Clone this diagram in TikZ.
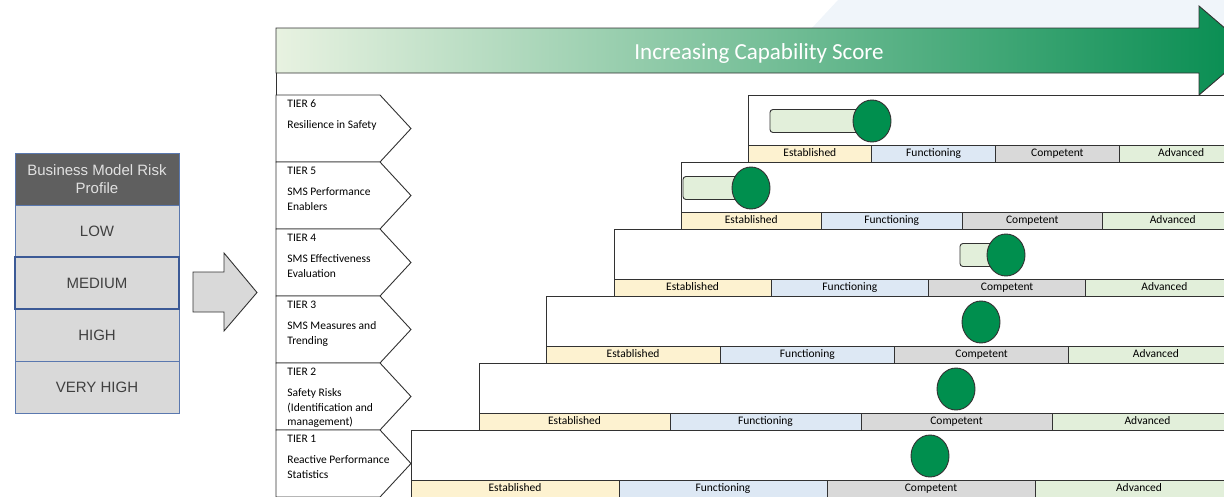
\documentclass[tikz,border=0pt]{standalone}
\usepackage{fontspec}
\setmainfont{Carlito}
\newfontfamily\helv{Liberation Sans}
\usetikzlibrary{shapes.geometric, positioning}
\definecolor{FrameGray}{RGB}{50, 50, 50}
\definecolor{RiskBlue}{RGB}{90, 120, 175}
\definecolor{RiskBlueDark}{RGB}{60, 90, 150}
\definecolor{RiskHead}{RGB}{95, 95, 95}
\definecolor{RiskHeadText}{RGB}{225, 225, 225}
\definecolor{RiskFill}{RGB}{217, 217, 217}
\definecolor{RiskText}{RGB}{64, 64, 64}
\definecolor{EstFill}{RGB}{253, 242, 208}
\definecolor{FunFill}{RGB}{221, 232, 244}
\definecolor{ComFill}{RGB}{217, 217, 217}
\definecolor{AdvFill}{RGB}{226, 239, 218}
\definecolor{ScoreGreen}{RGB}{0, 143, 78}
\definecolor{BandLight}{RGB}{232, 242, 225}
\definecolor{BandMid}{RGB}{165, 212, 180}
\definecolor{BandDark}{RGB}{5, 140, 80}
\definecolor{SlideTint}{RGB}{240, 245, 250}

\begin{document}
\begin{tikzpicture}[
        x=1pt, y=-1pt, line width=0.9pt,
        riskrow/.style={draw=RiskBlue, fill=RiskFill, text=RiskText, minimum width=164pt, minimum height=52pt, inner sep=0pt, outer sep=0pt, align=center, font=\helv\fontsize{15}{18}\selectfont},
        cell/.style={draw=FrameGray, anchor=west, minimum height=17pt, text height=8pt, text depth=2.5pt, inner sep=0pt, outer sep=0pt, font=\fontsize{11.5}{13}\selectfont},
        tiertext/.style={inner sep=0pt, align=left, font=\fontsize{11.5}{14.2}\selectfont},
        bar/.style={draw=FrameGray, fill=AdvFill, rounded corners=3pt},
        dot/.style={ellipse, draw=FrameGray, fill=ScoreGreen, minimum width=38pt, minimum height=42pt, inner sep=0pt}
    ]
        \useasboundingbox (0,0) rectangle (1224,496);
        \clip (0,0) rectangle (1224,496);
        \fill[SlideTint] (838,0) -- (1224,0) -- (1224,28) -- (812,28) -- cycle;

        % capability arrow across the top
        \draw[FrameGray, left color=BandLight, middle color=BandMid, right color=BandDark]
            (276,28) -- (1199,28) -- (1199,6) -- (1251,50.5) -- (1199,95) -- (1199,73) -- (276,73) -- cycle;
        \node[text=white, font=\fontsize{23}{26}\selectfont] (score) at (759,53) {Increasing Capability Score};
        \draw[FrameGray] (276,73) -- (276,496);

        % tier chevrons
        \foreach \tier/\desc in {6/{Resilience in Safety}, 5/{SMS Performance\\Enablers}, 4/{SMS Effectiveness\\Evaluation}, 3/{SMS Measures and\\Trending}, 2/{Safety Risks\\(Identification and\\management)}, 1/{Reactive Performance\\Statistics}} {
            \pgfmathsetmacro{\ytop}{95+(6-\tier)*67}
            \draw[FrameGray, fill=white] (276,\ytop) -- (380,\ytop) -- (411,\ytop+33.5) -- (380,\ytop+67) -- (276,\ytop+67) -- cycle;
            \node[tiertext, anchor=west] (tier\tier) at (287,\ytop+9) {TIER \tier};
            \node[tiertext, anchor=north west] (desc\tier) at (287,\ytop+25.5) {\desc};
        }

        % capability boxes with their rating bands
        \foreach \tier/\xl in {6/748, 5/681, 4/614, 3/546, 2/479, 1/411} {
            \pgfmathsetmacro{\ytop}{95+(6-\tier)*67}
            \pgfmathsetmacro{\w}{(1243-\xl)/4}
            \draw[FrameGray, fill=white] (\xl,\ytop) rectangle (1243,\ytop+67);
            \foreach \lbl/\col [count=\k from 0] in {Established/EstFill, Functioning/FunFill, Competent/ComFill, Advanced/AdvFill}
                \node[cell, fill=\col, minimum width=\w] (c\tier-\k) at (\xl+\k*\w,\ytop+58.5) {\lbl};
        }

        % current scores
        \draw[bar] (770,109.5) rectangle (872,132.5);
        \node[dot] (dot6) at (872,121) {};
        \draw[bar] (683,176.5) rectangle (751,199.5);
        \node[dot] (dot5) at (751,188) {};
        \draw[bar] (960,243.5) rectangle (1006,266.5);
        \node[dot] (dot4) at (1006,255) {};
        \node[dot] (dot3) at (981,322) {};
        \node[dot] (dot2) at (956,389) {};
        \node[dot] (dot1) at (930,456) {};

        % risk profile table
        \node[riskrow, fill=RiskHead, text=RiskHeadText] (risk) at (97,179) {Business Model Risk\\Profile};
        \node[riskrow, below=0pt of risk] (low) {LOW};
        \node[riskrow, below=0pt of low] (medium) {MEDIUM};
        \node[riskrow, below=0pt of medium] (high) {HIGH};
        \node[riskrow, below=0pt of high] (veryhigh) {VERY HIGH};
        \draw[RiskBlueDark, line width=1.8pt] (medium.north west) rectangle (medium.south east);

        \draw[FrameGray, fill=RiskFill] (193,272) -- (224,272) -- (224,253) -- (257,292.5) -- (224,331) -- (224,312) -- (193,312) -- cycle;
    \end{tikzpicture}
\end{document}
